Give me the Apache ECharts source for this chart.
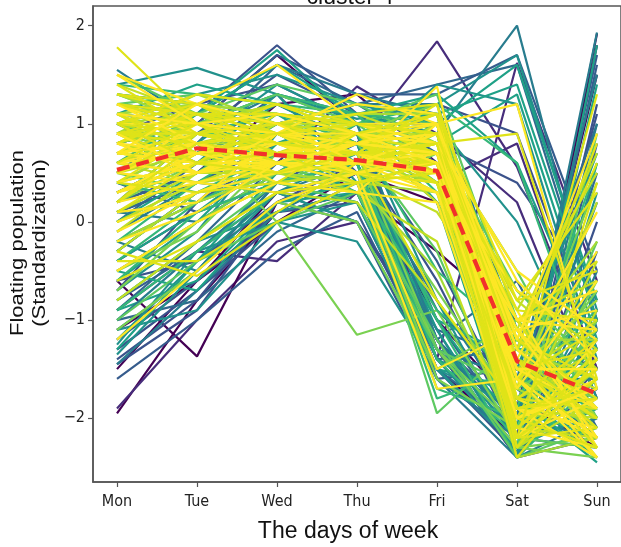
<!DOCTYPE html>
<html>
<head>
<meta charset="utf-8">
<script src="https://cdn.jsdelivr.net/npm/echarts@6/dist/echarts.min.js"></script>
<style>html,body{margin:0;padding:0;background:#fff}#c{width:621px;height:547px}</style>
</head>
<body>
<div id="c"></div>
<script>
const days = ['Mon', 'Tue', 'Wed', 'Thu', 'Fri', 'Sat', 'Sun'];
const yTicks = [-2, -1, 0, 1, 2];
const meanLine = [0.53, 0.75, 0.68, 0.63, 0.52, -1.42, -1.75];

const linesPurple = [
  [-1.95, -0.8, 0.1, 0.3, -0.3, -1.0, -2.0],
  [-1.9, -1.0, -0.2, 0.0, -1.2, -2.4, -1.1],
  [-0.6, -1.37, 0.2, 0.5, 0.2, -1.8, -2.3],
  [0.3, 0.6, 0.9, 0.8, 1.84, 0.56, -1.5],
  [0.8, 1.0, 1.7, 1.0, 0.9, -2.0, 1.8],
  [-0.9, -0.3, -0.4, 0.3, -1.4, 1.62, -0.6],
  [0.2, 0.5, 1.2, 1.3, 0.6, -2.2, 1.92],
  [-0.4, 0.1, 0.6, 1.38, 0.9, 0.2, -1.8],
  [-1.5, -0.6, 0.0, 0.5, -1.0, -1.9, 1.5],
  [0.6, 0.9, 1.1, 0.9, 0.4, 0.8, -1.5],
  [-1.1, -0.6, 0.3, 0.4, -1.5, -2.2, -1.6],
  [0.1, 0.4, 0.8, 0.9, -1.3, -2.4, -2.2]
];
const linesBlue = [
  [-1.45, -0.9, 0.2, 0.6, -1.3, -2.3, -0.9],
  [-1.1, -0.5, 0.4, 0.2, -1.5, -2.1, 0.5],
  [-0.8, -0.3, 0.3, 0.0, -1.6, -1.5, -2.2],
  [1.2, 1.1, 1.8, 1.1, 1.2, 0.9, -1.3],
  [0.5, 0.8, 1.6, 1.2, 1.4, 1.6, -1.0],
  [-0.2, 0.2, 0.7, 0.9, -1.2, -2.0, 1.7],
  [-1.3, -0.7, 0.0, 0.4, -1.4, -2.3, 0.0],
  [0.1, 0.4, 0.8, 0.7, -0.9, -1.7, -2.4],
  [-0.5, 0.0, 0.5, 1.0, 1.0, -2.1, 1.6],
  [0.9, 1.2, 1.4, 1.0, 0.8, 0.4, -0.8],
  [-1.0, -0.8, -0.1, 0.3, -1.1, -1.4, -1.9],
  [0.3, 0.7, 1.3, 0.5, -1.3, -2.4, -0.3],
  [-0.7, 0.2, 0.9, 0.7, -0.6, -2.2, 1.2],
  [1.0, 0.6, 1.0, 1.2, 0.7, -1.0, -2.0],
  [-1.6, -1.0, -0.3, 0.1, -1.5, -2.35, 0.8],
  [-1.2, -0.6, 0.1, 0.2, -1.3, -1.6, -1.4],
  [0.2, 0.5, 1.0, 0.9, -1.0, -2.2, -1.2],
  [-0.3, 0.3, 0.5, 0.6, -1.5, -2.3, -1.7],
  [0.7, 0.9, 1.5, 1.1, 0.6, -1.9, 1.1],
  [-0.9, -0.2, 0.6, 0.4, -1.2, -0.6, -2.1],
  [1.1, 1.0, 1.7, 1.3, 1.3, 1.7, -0.5],
  [-1.4, -0.8, 0.2, 0.5, -1.6, -2.2, -2.3],
  [0.0, 0.6, 0.9, 0.5, -1.4, -1.3, 1.0],
  [0.4, 0.1, 0.4, 0.8, -0.4, -2.0, -1.0],
  [-0.6, -0.4, 0.2, 0.0, -1.3, -2.4, -1.5]
];
const linesTeal = [
  [1.55, 1.0, 1.3, 1.1, 0.9, 2.0, -1.1],
  [1.4, 1.57, 1.3, 1.05, 1.2, 1.7, -0.9],
  [1.2, 1.1, 1.75, 1.0, 0.8, 1.3, -1.2],
  [-1.45, -0.7, 0.1, 0.5, -1.3, -2.0, 1.93],
  [-1.2, -0.4, 0.3, 0.0, -1.5, -2.3, -1.0],
  [0.0, 0.5, 1.1, 0.6, -1.0, -2.1, 1.4],
  [-0.3, 0.3, 0.6, 0.9, -1.6, -2.4, -0.5],
  [0.7, 1.0, 0.9, 0.7, 1.4, 1.2, -1.4],
  [-0.9, -0.6, 0.2, 0.4, -1.4, -1.8, -2.45],
  [0.4, 0.2, 0.6, 0.3, -1.2, -2.2, 1.0],
  [1.0, 1.3, 1.5, 1.2, 1.0, 0.0, -1.8],
  [-0.6, 0.0, 0.8, 1.1, 0.2, -2.3, 1.8],
  [0.2, 0.9, 1.2, 0.8, -1.3, -1.6, -1.6],
  [-1.1, -0.9, 0.0, -0.2, -1.5, -2.3, 0.3],
  [1.3, 1.2, 1.0, 0.9, 1.0, 1.6, -0.8],
  [-0.2, -0.5, 0.4, 0.5, -0.8, -2.0, -2.2],
  [0.9, 0.6, 1.3, 0.4, -1.1, -2.4, 0.6],
  [-1.3, -0.4, 0.5, 0.8, -1.4, -1.9, -1.3],
  [0.5, 1.1, 1.6, 1.3, 1.1, -1.6, 1.5],
  [-0.8, -0.2, 0.1, 0.3, -1.2, -2.2, -2.0],
  [1.1, 1.4, 1.2, 1.0, 1.1, 1.4, -1.0],
  [-1.0, -0.3, 0.4, 0.6, -1.2, -2.1, -1.7],
  [0.6, 0.8, 1.4, 1.0, -0.8, -2.3, -1.1],
  [-0.4, 0.1, 0.7, 0.3, -1.5, -1.7, -2.1],
  [0.3, 0.7, 1.0, 1.2, 1.2, -1.1, -2.0],
  [-1.35, -0.5, 0.3, 0.7, -1.1, -2.35, -0.7],
  [1.3, 1.1, 1.6, 1.1, 1.3, 0.6, -1.3],
  [0.1, 0.0, 0.5, 0.4, -1.3, -2.0, 0.2],
  [-0.7, -0.1, 0.9, 0.8, -1.4, -2.3, -1.9],
  [0.8, 1.0, 1.1, 0.9, 0.2, -1.8, -2.4],
  [-0.1, 0.4, 0.3, 0.6, -1.6, -2.2, -0.9],
  [1.0, 0.7, 1.2, 0.8, 0.9, -1.5, 0.7],
  [-0.5, -0.7, 0.2, 0.3, -1.0, -1.4, -1.6],
  [0.5, 0.9, 1.3, 1.0, -1.2, -2.4, -2.0],
  [-1.25, -0.3, 0.0, 0.2, -1.5, -1.9, -2.2]
];
const linesGreen = [
  [1.3, 1.2, 1.0, 0.9, 1.1, -1.9, -2.2],
  [0.6, 0.9, 0.8, 0.6, -1.95, -1.2, -1.5],
  [0.9, 0.8, 0.0, -1.15, -0.9, -2.2, -1.3],
  [-0.4, 0.2, 0.5, 0.6, -1.7, -2.0, -2.3],
  [1.1, 1.0, 1.2, 1.0, 1.3, -1.0, -1.9],
  [0.2, 0.6, 0.7, 0.9, 0.5, -2.3, -1.0],
  [-0.9, -0.3, 0.3, 0.5, -1.8, -1.5, -1.8],
  [1.5, 1.1, 1.4, 1.2, 0.8, -0.5, -2.0],
  [0.4, 0.8, 0.6, 0.3, 0.7, -1.7, 0.4],
  [-0.2, 0.4, 0.9, 0.7, -1.0, -2.4, -1.6],
  [0.8, 1.1, 1.1, 0.8, 0.9, -1.4, -2.1],
  [-0.7, 0.0, 0.5, 0.4, -1.3, -2.1, -0.6],
  [1.0, 0.7, 0.5, 1.0, 1.2, 0.6, -1.7],
  [0.1, 0.5, 1.0, 0.8, -0.3, -2.2, -2.3],
  [-1.1, -0.5, 0.2, 0.0, -1.5, -1.0, -2.0],
  [1.4, 1.3, 1.2, 1.1, 1.0, -2.0, -1.4],
  [0.5, 0.3, 0.4, 0.7, 0.6, -2.3, 0.9],
  [-0.5, -0.1, 0.7, 0.5, -0.7, -1.9, -2.4],
  [0.7, 1.0, 1.3, 1.1, 0.3, -1.3, -1.2],
  [1.2, 0.9, 0.9, 0.6, 1.0, -2.1, -0.2],
  [1.0, 1.2, 1.1, 0.9, 1.2, -1.5, -1.8],
  [-0.6, 0.1, 0.4, 0.6, -1.4, -2.2, -1.9],
  [0.3, 0.6, 0.9, 1.0, 0.4, -2.0, -1.1],
  [0.9, 0.7, 0.8, 0.7, -1.3, -2.3, -2.2],
  [-0.3, 0.3, 0.7, 0.4, -0.9, -1.6, -0.9],
  [1.3, 1.0, 1.3, 1.0, 0.9, -1.1, -2.3],
  [0.0, 0.4, 0.6, 0.5, -1.6, -2.1, -1.4],
  [0.6, 1.1, 1.0, 1.2, 1.1, -2.2, -1.6],
  [-1.0, -0.4, 0.0, 0.3, -1.2, -2.4, -2.1],
  [0.8, 0.6, 0.9, 0.5, 0.6, -1.8, -0.7],
  [0.4, 0.2, 0.6, 0.9, -0.5, -1.2, -2.0],
  [1.2, 1.3, 1.2, 1.0, 0.8, -0.7, -1.5],
  [-0.2, 0.2, 0.5, 0.7, 0.3, -2.3, -2.4],
  [0.7, 0.9, 1.1, 0.8, 1.0, -1.9, 0.6],
  [-0.8, -0.2, 0.4, 0.2, -1.3, -1.7, -1.2]
];
const linesLime = [
  [1.0, 1.1, 1.0, 0.9, 0.9, -1.6, -2.0],
  [0.6, 0.9, 0.7, 0.8, 0.7, -1.0, -0.6],
  [1.2, 1.0, 0.8, 0.7, 0.6, -1.1, -2.3],
  [0.3, 0.7, 0.9, 0.6, 0.5, -1.8, -1.4],
  [0.8, 0.6, 0.4, 0.5, 1.0, -2.0, -1.9],
  [-0.3, 0.3, 0.6, 0.7, 0.4, -0.9, 0.5],
  [1.1, 1.2, 1.1, 1.0, 0.8, -1.3, -1.6],
  [0.5, 0.8, 1.0, 0.8, 0.9, -2.1, -2.2],
  [0.9, 0.5, 0.6, 0.4, 0.3, -1.5, -0.8],
  [0.0, 0.4, 0.5, 0.3, -0.2, -2.3, -1.8],
  [1.3, 1.0, 0.9, 1.1, 1.1, -1.7, -2.1],
  [0.7, 1.0, 1.2, 0.9, 0.6, -0.8, -1.5],
  [0.4, 0.6, 0.5, 0.6, 0.8, -1.3, -0.2],
  [-0.8, -0.2, 0.3, 0.2, -0.8, -1.9, -2.0],
  [1.0, 0.8, 0.6, 0.8, 0.7, -1.4, -2.4],
  [0.2, 0.9, 0.8, 0.5, 1.0, -2.0, -0.4],
  [0.9, 1.3, 1.0, 0.7, 0.5, -1.2, -1.9],
  [0.6, 0.4, 0.7, 1.0, 0.9, -2.3, -1.6],
  [1.1, 0.7, 0.9, 0.6, 0.4, -1.8, -2.2],
  [-0.1, 0.5, 0.6, 0.9, 0.2, -1.6, -1.0],
  [1.0, 0.9, 0.8, 0.8, 0.8, -1.9, -1.8],
  [0.5, 0.7, 0.9, 0.7, 0.6, -0.7, -1.3],
  [1.2, 1.1, 0.7, 0.9, 1.0, -2.2, -1.5],
  [0.1, 0.5, 0.7, 0.6, 0.5, -2.0, -2.3],
  [0.8, 1.0, 1.1, 1.0, 0.7, -1.2, -1.2],
  [-0.5, 0.0, 0.4, 0.5, 0.1, -1.1, 0.7],
  [0.9, 0.8, 0.6, 0.5, 0.9, -1.6, -2.4],
  [0.3, 0.6, 1.0, 0.9, 0.8, -2.3, -0.9],
  [1.1, 1.2, 0.9, 0.7, 0.6, -1.0, -2.0],
  [0.6, 0.5, 0.5, 0.8, 1.1, -1.8, -1.3],
  [-0.2, 0.2, 0.5, 0.4, -0.5, -2.2, -1.6],
  [1.4, 1.1, 1.0, 1.0, 0.9, -1.4, -1.7],
  [0.4, 0.8, 0.8, 0.6, 0.4, -2.4, -2.2],
  [0.7, 0.6, 0.9, 1.1, 0.8, -1.7, 0.2],
  [0.0, 0.3, 0.6, 0.7, 0.6, -1.3, -2.1]
];
const linesYellow = [
  [1.78, 1.0, 0.9, 0.8, 0.7, -1.5, -2.0],
  [1.5, 1.2, 1.6, 1.0, 1.0, 1.2, -1.7],
  [-0.3, -0.55, 0.0, 0.4, 0.6, -2.0, -1.5],
  [1.2, 0.9, 0.7, 0.6, 1.38, -1.8, -2.2],
  [0.9, 0.8, 0.7, 0.7, 0.6, -1.0, -0.4],
  [0.6, 0.7, 0.6, 0.6, 0.5, -1.9, -2.1],
  [0.4, 0.9, 0.8, 0.7, 0.8, -0.8, 0.3],
  [1.0, 1.0, 0.9, 0.5, 0.3, -2.1, -2.3],
  [0.7, 0.6, 0.5, 0.8, 0.9, -1.3, 0.8],
  [-0.5, 0.0, 0.4, 0.3, 0.2, -2.2, -1.2],
  [1.1, 0.8, 0.5, 0.6, 0.8, -1.0, -2.2],
  [0.3, 0.5, 0.7, 0.9, 0.6, -1.1, -0.9],
  [0.8, 1.2, 1.0, 0.8, 0.4, -1.5, -1.3],
  [0.5, 0.4, 0.3, 0.5, 0.7, -1.9, -2.4],
  [1.3, 1.1, 0.8, 0.7, 1.2, -1.2, -1.6],
  [0.0, 0.3, 0.6, 0.5, 0.4, -0.7, -1.2],
  [0.9, 0.6, 1.1, 0.9, 0.5, -1.7, 1.3],
  [0.6, 0.8, 0.4, 0.3, 1.0, -2.2, -1.8],
  [1.0, 1.3, 1.2, 1.0, 0.9, -1.4, -2.1],
  [-1.2, -0.5, 0.2, 0.5, -1.5, -1.1, -1.9],
  [0.2, 0.7, 0.9, 1.0, 0.7, -1.2, 0.6],
  [0.8, 0.5, 0.6, 0.4, -1.7, -1.6, -2.2],
  [1.4, 0.9, 0.7, 0.8, 0.6, -2.1, -1.4],
  [0.5, 1.0, 0.8, 0.6, 0.9, -0.9, -2.3],
  [-0.4, -0.4, 0.1, 0.6, 0.8, -1.8, -1.9],
  [0.7, 0.9, 1.0, 1.2, 1.1, -1.6, -0.3],
  [1.2, 1.0, 0.6, 0.9, 0.7, -1.6, -1.1],
  [0.3, 0.6, 0.5, 0.7, 0.3, -1.4, -2.4],
  [0.9, 1.1, 0.9, 0.6, 0.8, 0.9, -1.6],
  [0.1, 0.2, 0.9, 1.3, 1.0, -2.0, -1.7],
  [1.0, 0.9, 0.8, 0.9, 0.8, -0.9, -1.0],
  [0.7, 0.8, 0.9, 0.7, 0.7, -2.0, -1.6],
  [1.2, 1.1, 1.0, 0.8, 0.5, -1.4, -2.3],
  [0.4, 0.6, 0.7, 0.8, 0.9, -0.6, -1.4],
  [0.9, 1.0, 0.6, 0.6, 0.6, -2.2, -2.1],
  [0.5, 0.8, 0.9, 0.9, 1.0, -1.5, -1.9],
  [1.1, 0.7, 0.7, 0.5, 0.4, -1.8, -1.2],
  [0.2, 0.4, 0.6, 0.6, 0.7, -1.4, 0.1],
  [0.8, 1.1, 1.1, 1.0, 0.9, -1.2, -1.8],
  [0.6, 0.5, 0.8, 0.7, 0.5, -1.6, -2.4],
  [1.3, 1.2, 0.9, 0.8, 1.1, -2.1, -1.5],
  [-0.1, 0.3, 0.5, 0.6, 0.3, -1.0, -0.7],
  [0.9, 0.9, 1.0, 1.1, 1.2, -1.9, -1.7],
  [0.3, 0.7, 0.8, 0.5, 0.6, -1.1, -2.2],
  [1.0, 1.2, 0.8, 0.7, 0.7, -2.3, -1.3],
  [0.7, 0.6, 0.6, 0.9, 0.8, -0.5, -1.1],
  [-0.6, -0.2, 0.3, 0.4, 0.5, -2.0, -2.3],
  [1.2, 0.8, 0.6, 0.6, 0.9, -1.3, -1.9],
  [0.5, 0.9, 1.2, 0.9, 0.4, -2.2, -1.6],
  [0.8, 0.7, 0.5, 0.8, 1.0, -1.2, 0.9],
  [0.1, 0.6, 0.7, 0.7, -0.8, -1.9, -1.8],
  [1.5, 1.0, 0.9, 1.0, 0.8, -1.6, -2.2],
  [0.6, 1.0, 0.7, 0.4, 0.6, -2.4, -1.4],
  [0.9, 0.5, 0.9, 0.8, 0.7, -1.0, -1.1],
  [0.4, 0.3, 0.4, 0.9, 1.1, -0.8, -0.5],
  [1.1, 1.0, 1.1, 0.9, 0.6, -1.7, -0.6],
  [0.2, 0.8, 0.9, 1.0, 0.9, -1.4, -2.0],
  [0.7, 1.2, 1.0, 0.6, 0.5, -2.0, -1.7],
  [1.0, 0.6, 0.5, 0.7, 0.8, -2.2, 0.4],
  [-0.2, 0.1, 0.6, 0.8, 0.7, -1.5, -1.5]
];

const groups = [
  { lines: linesPurple, colors: ['#440154', '#472d7b'] },
  { lines: linesBlue, colors: ['#3b528b', '#31688e', '#365c8d'] },
  { lines: linesTeal, colors: ['#287c8e', '#21918c', '#1fa187'] },
  { lines: linesGreen, colors: ['#35b779', '#5ec962', '#7ad151'] },
  { lines: linesLime, colors: ['#a5db36', '#c2df23'] },
  { lines: linesYellow, colors: ['#dfe318', '#fde725'] }
];

const series = [];
groups.forEach(g => {
  g.lines.forEach((vals, i) => {
    series.push({
      type: 'line',
      data: vals.map((v, k) => [k, v]),
      showSymbol: false,
      symbol: 'none',
      silent: true,
      lineStyle: { width: 2.2, color: g.colors[i % g.colors.length] },
      z: 2
    });
  });
});
series.push({
  type: 'line',
  data: meanLine.map((v, k) => [k, v]),
  symbol: 'none',
  silent: true,
  lineStyle: { width: 4.2, color: '#f2302b', type: [13, 7] },
  z: 5
});

const tickFont = "'DejaVu Sans Condensed', 'DejaVu Sans', sans-serif";
const chart = echarts.init(document.getElementById('c'));
chart.setOption({
  animation: false,
  backgroundColor: '#fff',
  grid: { left: 93, top: 6, width: 532, bottom: 65, show: true, borderColor: '#555', borderWidth: 1.5, backgroundColor: 'transparent' },
  xAxis: {
    type: 'value', min: -0.3, max: 6.3,
    axisLine: { show: true, onZero: false, lineStyle: { color: '#555', width: 1.5 } },
    axisTick: { show: true, customValues: [0, 1, 2, 3, 4, 5, 6], length: 5, lineStyle: { color: '#555', width: 1.2 } },
    axisLabel: { customValues: [0, 1, 2, 3, 4, 5, 6], formatter: v => days[Math.round(v)], fontFamily: tickFont, fontSize: 16, color: '#222', margin: 12 },
    splitLine: { show: false }
  },
  yAxis: {
    type: 'value', min: -2.65, max: 2.2,
    axisLine: { show: true, onZero: false, lineStyle: { color: '#555', width: 1.5 } },
    axisTick: { show: true, customValues: yTicks, length: 5, lineStyle: { color: '#555', width: 1.2 } },
    axisLabel: { customValues: yTicks, formatter: v => (v < 0 ? '\u2212' + Math.abs(v) : String(v)), fontFamily: tickFont, fontSize: 16, color: '#222', margin: 8 },
    splitLine: { show: false }
  },
  graphic: [
    { type: 'text', z: 100, style: { text: 'cluster 4', x: 350, y: 9, align: 'center', verticalAlign: 'bottom', fontFamily: 'Liberation Sans', fontSize: 23, fill: '#111' } },
    { type: 'text', style: { text: 'The days of week', x: 348, y: 532, align: 'center', verticalAlign: 'middle', fontFamily: 'Liberation Sans', fontSize: 23, fill: '#111' } },
    { type: 'text', x: 29, y: 243, rotation: Math.PI / 2, scaleY: 0.85, style: { text: 'Floating population\n(Standardization)', x: 0, y: 0, align: 'center', verticalAlign: 'middle', lineHeight: 26, fontFamily: 'Liberation Sans', fontSize: 22, fill: '#111' } }
  ],
  series: series
});
</script>
</body>
</html>
